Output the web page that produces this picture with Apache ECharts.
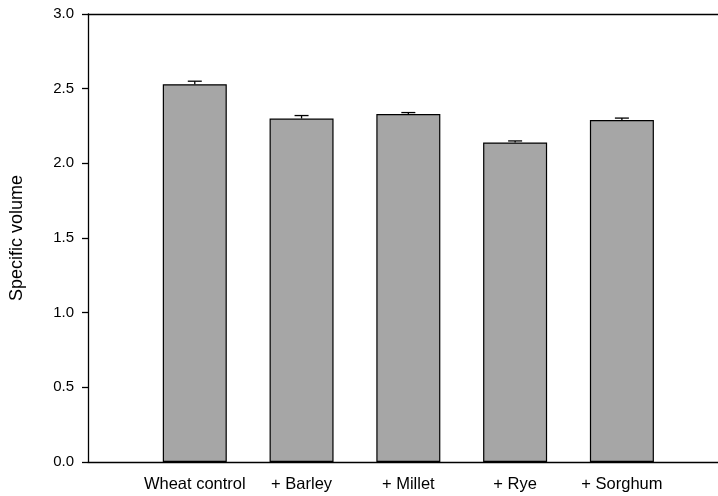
<!DOCTYPE html>
<html>
<head>
<meta charset="utf-8">
<script src="https://cdn.jsdelivr.net/npm/echarts@6/dist/echarts.min.js"></script>
<style>
  html, body { margin: 0; padding: 0; background: #fff; }
  #chart { width: 718px; height: 496px; }
</style>
</head>
<body>
<div id="chart"></div>
<script>
const categories = ['Wheat control', '+ Barley', '+ Millet', '+ Rye', '+ Sorghum'];
const positions = [1, 2, 3, 4, 5];
const volumes = [2.53, 2.30, 2.33, 2.14, 2.29];
const errors = [0.02, 0.02, 0.01, 0.01, 0.013];
const yTicks = [0, 0.5, 1.0, 1.5, 2.0, 2.5, 3.0];

const font = 'Liberation Sans, Arial, Helvetica, sans-serif';
const myChart = echarts.init(document.getElementById('chart'));

const barData = positions.map((p, i) => [p, volumes[i]]);
const errData = positions.map((p, i) => [p, volumes[i], volumes[i] + errors[i]]);

function drawError(params, api) {
    const x = api.value(0);
    const low = api.coord([x, api.value(1)]);
    const high = api.coord([x, api.value(2)]);
    const half = 7;
    const style = { stroke: '#000', lineWidth: 1.3 };
    return {
        type: 'group',
        children: [
            { type: 'line', shape: { x1: low[0], y1: low[1], x2: high[0], y2: high[1] }, style: style },
            { type: 'line', shape: { x1: high[0] - half, y1: high[1], x2: high[0] + half, y2: high[1] }, style: style }
        ]
    };
}

const option = {
    animation: false,
    grid: { left: 88, right: 0, top: 14, bottom: 34 },
    xAxis: [{
        type: 'value',
        min: 0,
        max: 5.9,
        interval: 1,
        position: 'bottom',
        splitLine: { show: false },
        axisTick: { show: false },
        axisLine: { lineStyle: { color: '#000', width: 1.3 } },
        axisLabel: {
            color: '#000',
            fontFamily: font,
            fontSize: 16.5,
            margin: 14,
            showMaxLabel: false,
            formatter: v => categories[positions.indexOf(v)] || ''
        }
    }, {
        type: 'value',
        min: 0,
        max: 5.9,
        position: 'top',
        splitLine: { show: false },
        axisTick: { show: false },
        axisLabel: { show: false },
        axisLine: { lineStyle: { color: '#000', width: 1.3 } }
    }],
    yAxis: {
        type: 'value',
        min: yTicks[0],
        max: yTicks[yTicks.length - 1],
        interval: 0.5,
        name: 'Specific volume',
        nameLocation: 'middle',
        nameGap: 62,
        nameTextStyle: { color: '#000', fontFamily: font, fontSize: 18 },
        splitLine: { show: false },
        axisLine: { show: true, lineStyle: { color: '#000', width: 1.3 } },
        axisTick: { show: true, inside: false, length: 6, lineStyle: { color: '#000', width: 1.3 } },
        axisLabel: {
            color: '#000',
            fontFamily: font,
            fontSize: 15,
            margin: 14,
            formatter: v => v.toFixed(1)
        }
    },
    series: [{
        type: 'bar',
        data: barData,
        barWidth: 64,
        itemStyle: { color: '#a6a6a6', borderColor: '#000', borderWidth: 1.2 }
    }, {
        type: 'custom',
        data: errData,
        renderItem: drawError,
        z: 3
    }]
};
myChart.setOption(option);
</script>
</body>
</html>
